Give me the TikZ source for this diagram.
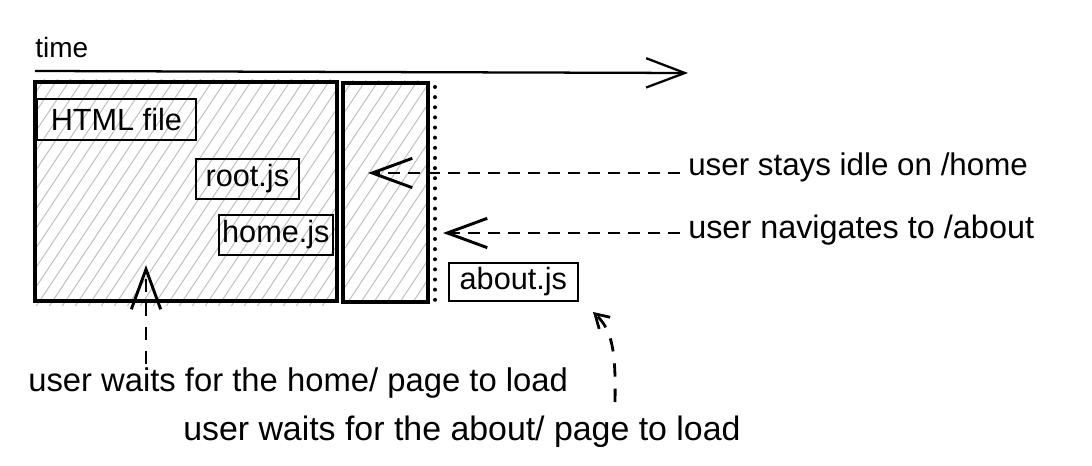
\documentclass[tikz,border=0pt]{standalone}
\usepackage{fontspec}
\setmainfont{Liberation Sans}
\usetikzlibrary{arrows.meta}
\begin{document}
\begin{tikzpicture}[x=0.75pt,y=-0.75pt,
  lbl/.style={font=\fontsize{23.5}{28}\selectfont, inner sep=0pt, anchor=west},
  filebox/.style={draw, line width=1.3pt, inner sep=0pt, font=\fontsize{23}{27}\selectfont, anchor=north west},
  frame/.style={draw, line width=2.7pt, inner sep=0pt, anchor=north west},
  hatch/.style={draw=black!24, line width=0.75pt},
  dasharrow/.style={line width=2.2pt, dash pattern=on 9pt off 6pt, -{Straight Barb[length=30pt,width=22pt,line width=2.2pt]}},
  smallarrow/.style={line width=2.1pt, dash pattern=on 10pt off 9pt, -{Straight Barb[length=10pt,width=12pt,line width=2.1pt]}},
]
\useasboundingbox (0,0) rectangle (1092,466);
% hatching
\begin{scope}
  \clip (33,80) rectangle (335,306);
  \foreach \x in {-220,-207,...,440} \draw[hatch] (\x,320) -- ++(190,-285);
\end{scope}
\begin{scope}
  \clip (341,81) rectangle (426,300);
  \foreach \x in {180,193,...,440} \draw[hatch] (\x,320) -- ++(190,-285);
\end{scope}
% frames
\node (main) [frame, minimum width=226.5pt, minimum height=164.25pt] at (33,80) {};
\node (side) [frame, minimum width=63.75pt, minimum height=164.25pt] at (341,81) {};
% dotted marker
\coordinate (dtop) at (435,87);
\coordinate (dbot) at (435,300);
\draw[line width=3pt, dash pattern=on 0pt off 7.6pt, line cap=round] (dtop) -- (dbot);
% file boxes
\node (html) [filebox, minimum width=119.25pt, minimum height=30.75pt] at (36,98) {HTML file};
\node (root) [filebox, minimum width=77.25pt, minimum height=30pt] at (195,158) {root.js};
\node (home) [filebox, minimum width=85.5pt, minimum height=30pt] at (218,214) {home.js};
\node (about) [filebox, minimum width=96.75pt, minimum height=28.5pt] at (448,262) {about.js};
% time axis
\node (time) [lbl, font=\fontsize{21}{25}\selectfont] at (35,47) {time};
\coordinate (t0) at (35,71);
\coordinate (t1) at (688,73);
\draw[line width=1.7pt, -{Straight Barb[length=29pt,width=22pt,line width=1.7pt]}] (t0) -- (t1);
% right labels
\node (idle) [lbl] at (688,167) {user stays idle on /home};
\coordinate (idletip) at (368,173);
\draw[dasharrow, shorten <=6pt] (idle.west |- idletip) -- (idletip);
\node (nav) [lbl, font=\fontsize{24.3}{28}\selectfont] at (688,230) {user navigates to /about};
\coordinate (navtip) at (443,233);
\draw[dasharrow, shorten <=6pt] (nav.west |- navtip) -- (navtip);
% bottom labels
\node (homewait) [lbl, font=\fontsize{24.6}{28}\selectfont] at (28,383) {user waits for the home/ page to load};
\coordinate (hometip) at (146,265);
\coordinate (homestart) at (146,364);
\draw[dasharrow, dash pattern=on 10pt off 8pt] (homestart) -- (hometip);
\node (aboutwait) [lbl, font=\fontsize{25.4}{29}\selectfont] at (183,432) {user waits for the about/ page to load};
\coordinate (aboutstart) at (615,402);
\coordinate (abouttip) at (593,312);
\draw[smallarrow] (aboutstart) .. controls (616,350) and (612,330) .. (abouttip);
\end{tikzpicture}
\end{document}
